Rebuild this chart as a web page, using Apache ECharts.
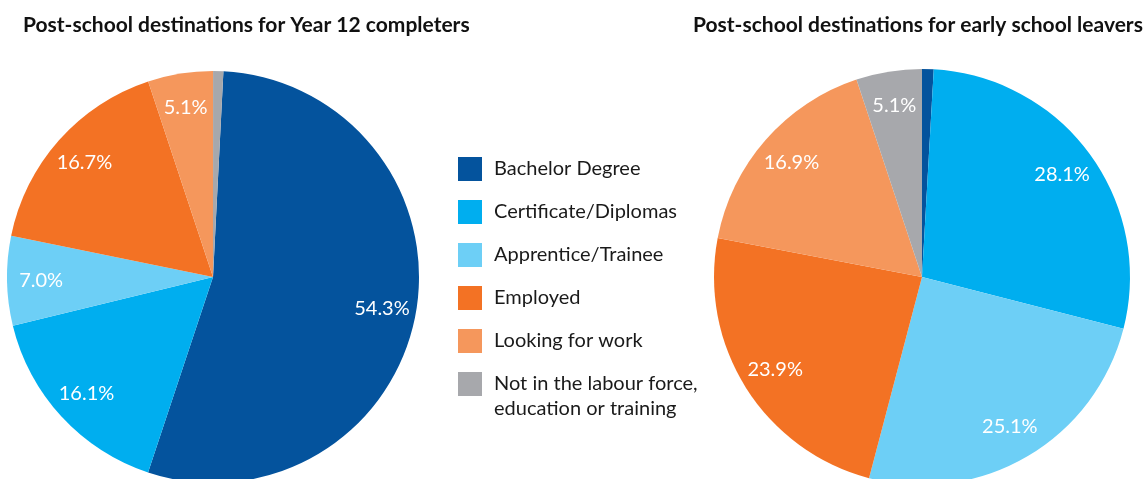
<!DOCTYPE html>
<html>
<head>
<meta charset="utf-8">
<script src="https://cdn.jsdelivr.net/npm/echarts@6/dist/echarts.min.js"></script>
<style>
  html, body { margin: 0; background: #fff; }
  #chart { width: 1146px; height: 479px; }
</style>
</head>
<body>
<div id="chart"></div>
<script>
// 类别 / 数据
const categories = [
  'Bachelor Degree',
  'Certificate/Diplomas',
  'Apprentice/Trainee',
  'Employed',
  'Looking for work',
  'Not in the labour force, education or training'
]
const year12Values = [54.3, 16.1, 7.0, 16.7, 5.1, 0.8]
const earlyLeaverValues = [0.9, 28.1, 25.1, 23.9, 16.9, 5.1]
const colors = ['#04539d', '#00aeef', '#6dcff6', '#f37224', '#f5975c', '#a7a8ac']

const FONT = 'Lato'

function pieData(values, transparent) {
  return values.map((v, i) => ({
    name: categories[i],
    value: v,
    itemStyle: transparent ? { color: 'rgba(0,0,0,0)' } : { color: colors[i] },
    label: { show: transparent && v >= 1 }
  }))
}

// 主饼图 + 透明的标签层（标签放在半径约 0.82 处）
function pieSeries(values, cx, cy, r, startAngle) {
  return [
    {
      type: 'pie',
      center: [cx, cy],
      radius: [0, r],
      startAngle: startAngle,
      clockwise: true,
      silent: true,
      label: { show: false },
      labelLine: { show: false },
      itemStyle: { borderWidth: 0 },
      data: pieData(values, false)
    },
    {
      type: 'pie',
      center: [cx, cy],
      radius: [r * 0.64, r],
      startAngle: startAngle,
      clockwise: true,
      silent: true,
      labelLine: { show: false },
      label: {
        position: 'inside',
        color: '#fff',
        fontFamily: FONT,
        fontSize: 20,
        formatter: (p) => p.value.toFixed(1) + '%'
      },
      itemStyle: { borderWidth: 0 },
      data: pieData(values, true)
    }
  ]
}

const lastName = categories[categories.length - 1]

const chart = echarts.init(document.getElementById('chart'), null, { renderer: 'canvas' })
chart.setOption({
  animation: false,
  title: [
    {
      text: 'Post-school destinations for Year 12 completers',
      left: 23,
      top: 15,
      padding: 0,
      textStyle: { fontFamily: FONT, fontWeight: 'bold', fontSize: 21, color: '#111' }
    },
    {
      text: 'Post-school destinations for early school leavers',
      left: 693,
      top: 15,
      padding: 0,
      textStyle: { fontFamily: FONT, fontWeight: 'bold', fontSize: 21, color: '#111' }
    }
  ],
  legend: {
    orient: 'vertical',
    left: 458,
    top: 157,
    padding: 0,
    itemWidth: 24,
    itemHeight: 24,
    itemGap: 19,
    icon: 'rect',
    selectedMode: false,
    textStyle: { fontFamily: FONT, fontSize: 20, color: '#1a1a1a', padding: [0, 0, 0, 7] },
    data: categories.map((c) => c === lastName
      ? {
          name: c,
          textStyle: {
            padding: [25, 0, 0, 7],
            rich: { l: { fontFamily: FONT, fontSize: 20, lineHeight: 25, color: '#1a1a1a' } }
          }
        }
      : c),
    formatter: (name) => name === lastName
      ? '{l|Not in the labour force,}\n{l|education or training}'
      : name
  },
  series: [
    ...pieSeries(year12Values, 213, 277, 206, 87.1),
    ...pieSeries(earlyLeaverValues, 922, 277, 208, 90)
  ]
})
</script>
</body>
</html>
